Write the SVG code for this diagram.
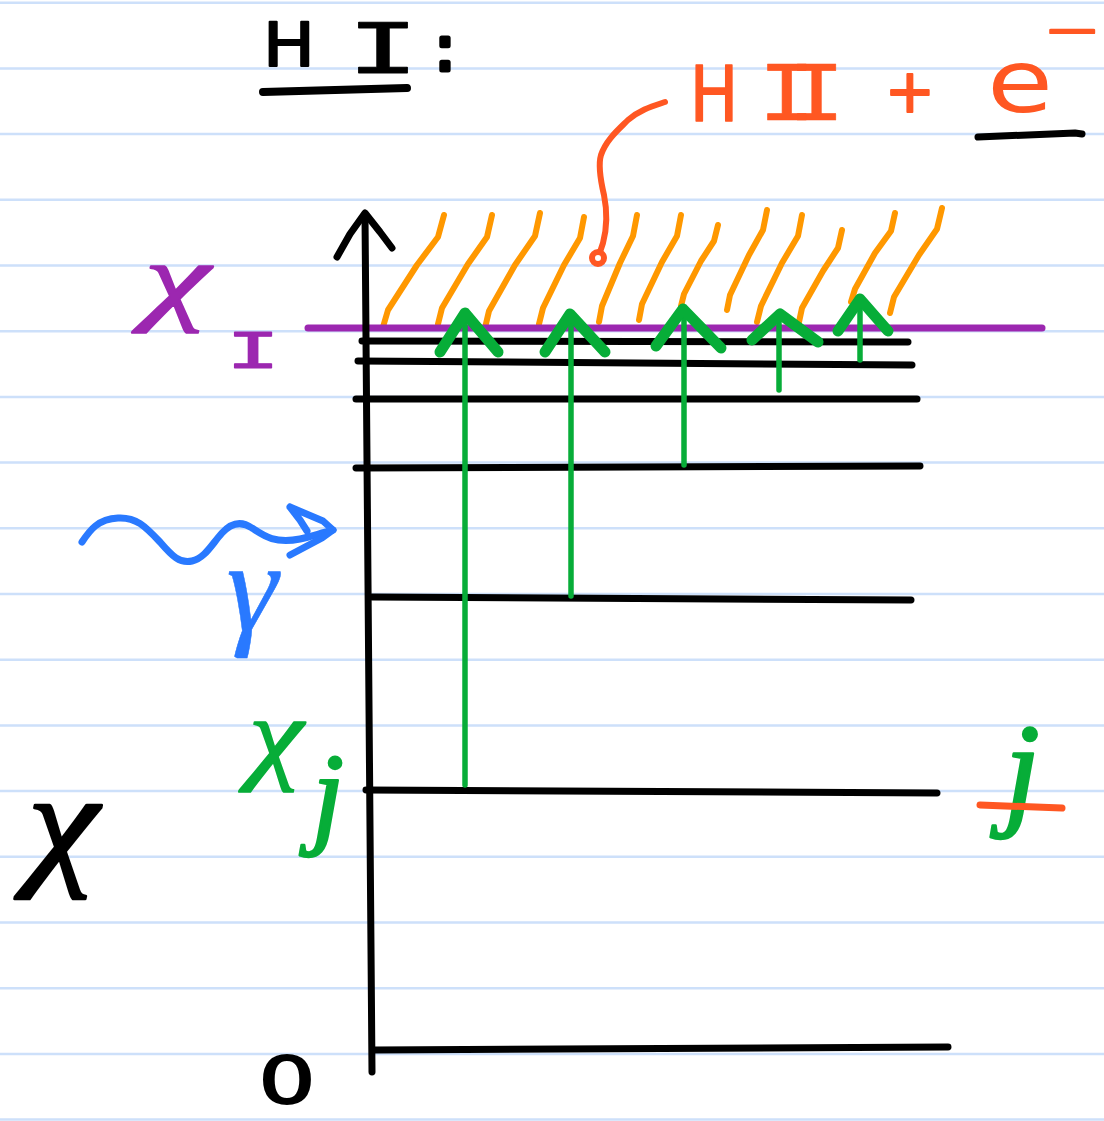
<svg xmlns="http://www.w3.org/2000/svg" width="1104" height="1121" viewBox="0 0 1104 1121">
<style>
.rule{stroke:#cde0fa;stroke-width:2.5;fill:none}
.s{fill:none;stroke-linecap:round;stroke-linejoin:round}
.blk{stroke:#000;stroke-width:7}
.pur{stroke:#9c27b0;stroke-width:7}
.hat{stroke:#ff9800;stroke-width:6}
.red{stroke:#ff5722;stroke-width:6}
.grn{stroke:#07ad38;stroke-width:5.5}
.gh{stroke:#07ad38;stroke-width:11}
.blu{stroke:#2979ff;stroke-width:7}
.t{font-family:"DejaVu Sans",sans-serif;stroke-linejoin:round;stroke-linecap:round;text-anchor:middle}
.m{font-family:"DejaVu Sans Mono",monospace;stroke-linejoin:round;text-anchor:middle}
.i{font-family:"Liberation Serif",serif;font-style:italic;stroke-linejoin:round;stroke-linecap:round;text-anchor:middle}
</style>
<rect width="1104" height="1121" fill="#fff"/>
<g id="ruling">
<path class="rule" d="M0 2.7H1104M0 68.4H1104M0 134.1H1104M0 199.8H1104M0 265.5H1104M0 331.2H1104M0 396.9H1104M0 462.6H1104M0 528.3H1104M0 594H1104M0 659.7H1104M0 725.4H1104M0 791.1H1104M0 856.8H1104M0 922.5H1104M0 988.2H1104M0 1053.9H1104M0 1119.6H1104"/>
</g>
<g id="continuum-hatch">
<path class="s hat" d="M383 327L388 310L417 265L438 237L444 215"/>
<path class="s hat" d="M438 324L442 308L468 264L487 237L492 215"/>
<path class="s hat" d="M485 328L489 311L515 265L535 236L540 213"/>
<path class="s hat" d="M539 324L543 308L564 265L580 238L584 217"/>
<path class="s hat" d="M599 322L602 306L620 263L633 236L637 215"/>
<path class="s hat" d="M639 320L642 304L662 262L677 236L681 215"/>
<path class="s hat" d="M681 306L684 294L701 261L714 241L718 225"/>
<path class="s hat" d="M727 310L730 295L749 255L763 230L767 210"/>
<path class="s hat" d="M757 322L761 306L782 263L798 236L802 215"/>
<path class="s hat" d="M799 322L802 308L823 271L838 248L842 230"/>
<path class="s hat" d="M851 302L855 289L875 253L891 231L895 213"/>
<path class="s hat" d="M890 313L894 297L919 255L937 229L942 208"/>
</g>
<g id="ionization-limit">
<path class="s pur" d="M308 328L1042 328"/>
</g>
<g id="levels">
<path class="s blk" d="M362 341L908 342"/>
<path class="s blk" d="M358 361L912 365"/>
<path class="s blk" d="M356 399L917 399"/>
<path class="s blk" d="M356 468L920 466"/>
<path class="s blk" d="M372 597L911 600"/>
<path class="s blk" d="M366 790L937 793"/>
<path class="s blk" d="M375 1050L948 1047"/>
</g>
<g id="axis">
<path class="s blk" d="M365 215L372 1072"/>
<path class="s blk" d="M337 257L350 234L365 213L380 232L392 248"/>
</g>
<g id="connectors">
<path class="s grn" d="M465 785L465 318"/>
<path class="s gh" d="M440 352L465 313L498 352"/>
<path class="s grn" d="M571 596L571 318"/>
<path class="s gh" d="M545 352L570 314L605 352"/>
<path class="s grn" d="M684 465L684 316"/>
<path class="s gh" d="M656 346L683 309L721 348"/>
<path class="s grn" d="M779 390L779 320"/>
<path class="s gh" d="M752 340L780 314L818 342"/>
<path class="s grn" d="M860 360L860 306"/>
<path class="s gh" d="M838 331L860 299L888 331"/>
<path class="s red" d="M665 102C650 107 640 110 628 120C618 130 606 140 601 155C598 165 600 178 604 195C607 210 607 228 603 243L600 252"/>
<circle class="s red" cx="598" cy="258" r="6"/>
<path class="s blu" d="M82 542C90 530 98 519 118 518C136 517 145 526 160 542C172 556 180 564 192 561C205 558 212 544 222 533C232 522 242 521 252 528C264 536 275 544 300 539C310 537 318 534 333 530"/>
<path class="s blu" d="M290 507L300 520L307 531M290 507L323 521L333 530L322 538L290 555"/>
</g>
<g id="labels">
<text class="t" transform="translate(289,66) scale(1.15,1)" font-size="60" fill="#000" stroke="#000" stroke-width="2">H</text>
<text class="m" transform="translate(383,73) scale(1.7,1)" font-size="70" fill="#000" stroke="#000" stroke-width="1">I</text>
<text class="t" x="445" y="70" font-size="62" fill="#000" stroke="#000" stroke-width="5">:</text>
<path class="s blk" style="stroke-width:8" d="M263 92L407 88"/>
<text class="t" transform="translate(714,121) scale(0.85,1)" font-size="76" fill="#ff5722" stroke="#ff5722" stroke-width="1.5">H</text>
<text class="m" transform="translate(788,120) scale(1.25,1)" font-size="76" letter-spacing="-22" fill="#ff5722" stroke="#ff5722" stroke-width="0.5">II</text>
<text class="t" x="910" y="112" font-size="60" fill="#ff5722" stroke="#ff5722" stroke-width="2">+</text>
<text class="t" transform="translate(1020,112) scale(1.22,1)" font-size="88" fill="#ff5722">e</text>
<text class="t" transform="translate(1101,44) scale(1.7,1)" font-size="40" fill="#ff5722" stroke="#ff5722" stroke-width="2" style="text-anchor:end">−</text>
<path class="s blk" d="M978 137L1075 133L1082 134"/>
<text class="i" transform="translate(177,312) scale(1.5,1)" font-size="100" fill="#9c27b0" stroke="#9c27b0" stroke-width="1.5">χ</text>
<text class="m" transform="translate(253,368) scale(1.8,1)" font-size="50" fill="#9c27b0" stroke="#9c27b0" stroke-width="1">I</text>
<text class="i" x="252" y="630" font-size="130" fill="#2979ff" stroke="#2979ff" stroke-width="0.5">γ</text>
<text class="i" transform="translate(276,770) scale(1.2,1)" font-size="103" fill="#07ad38" stroke="#07ad38" stroke-width="1.5">χ</text>
<text class="i" x="328" y="833" font-size="115" fill="#07ad38" stroke="#07ad38" stroke-width="2.5">j</text>
<text class="i" x="1022" y="812" font-size="128" fill="#07ad38" stroke="#07ad38" stroke-width="2.5">j</text>
<path class="s red" style="stroke-width:7" d="M980 805L1062 808"/>
<text class="i" transform="translate(63,869) scale(1.15,1)" font-size="140" fill="#000" stroke="#000" stroke-width="2.5">χ</text>
<text class="t" transform="translate(287,1103) scale(1.4,1)" font-size="64" fill="#000" stroke="#000" stroke-width="2">0</text>
</g>
</svg>
